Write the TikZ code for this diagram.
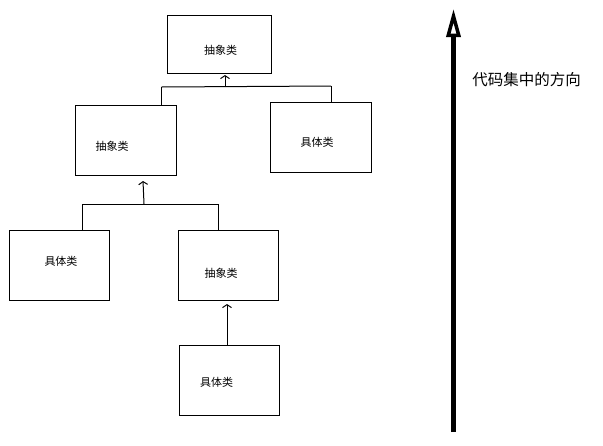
\documentclass[tikz,border=0pt]{standalone}
\usepackage{fontspec}
\setmainfont{Noto Sans CJK SC}
\usetikzlibrary{arrows.meta}
\tikzset{
  cls/.style={draw, line width=1pt, minimum width=100pt, minimum height=70pt, inner sep=0pt},
  txt/.style={font=\fontsize{11}{13}\selectfont, inner sep=0pt},
  inh/.style={-{Straight Barb[length=3pt,width=9pt]}, line width=1pt},
  wire/.style={line width=1pt},
}
\begin{document}
\begin{tikzpicture}[x=1pt,y=-1pt]
  \useasboundingbox (0,0) rectangle (603,445);

  % boxes
  \node[cls, minimum width=104pt, minimum height=58pt] (top) at (219,44) {};
  \node[cls, minimum width=101pt] (midl) at (125.5,140) {};
  \node[cls, minimum width=101pt] (midr) at (320.5,137) {};
  \node[cls] (botl) at (59,265) {};
  \node[cls] (botm) at (228,265) {};
  \node[cls] (bot) at (229,380) {};

  % labels
  \node[txt] (toptxt) at (220.5,50) {抽象类};
  \node[txt] (midltxt) at (112,146) {抽象类};
  \node[txt] (midrtxt) at (317,142) {具体类};
  \node[txt] (botltxt) at (61,261) {具体类};
  \node[txt] (botmtxt) at (221,273) {抽象类};
  \node[txt] (bottxt) at (216.5,382) {具体类};

  % first level
  \coordinate (j1) at (225,87);
  \coordinate (l1) at (161.5,87);
  \coordinate (r1) at (331,86);
  \draw[inh] (j1) -- (225,75);
  \draw[wire] (l1) -- (r1);
  \draw[wire] (l1) -- (l1 |- midl.north);
  \draw[wire] (r1) -- (r1 |- midr.north);

  % second level
  \coordinate (j2) at (144,204);
  \coordinate (l2) at (82,204);
  \coordinate (r2) at (218,204);
  \draw[inh] (j2) -- (143,181);
  \draw[wire] (l2) -- (r2);
  \draw[wire] (l2) -- (l2 |- botl.north);
  \draw[wire] (r2) -- (r2 |- botm.north);

  % third level
  \draw[inh] (bot.north -| 227,0) -- (227,304);

  % direction
  \coordinate (dirbase) at (453.5,432);
  \coordinate (dirtip) at (453.5,9);
  \draw[line width=5pt, -{Triangle[open, length=28pt, width=14pt, line width=3.5pt]}] (dirbase) -- (dirtip);
  \node[font=\fontsize{15.5}{18}\selectfont, inner sep=0pt] (dirtxt) at (526.5,80) {代码集中的方向};
\end{tikzpicture}
\end{document}
